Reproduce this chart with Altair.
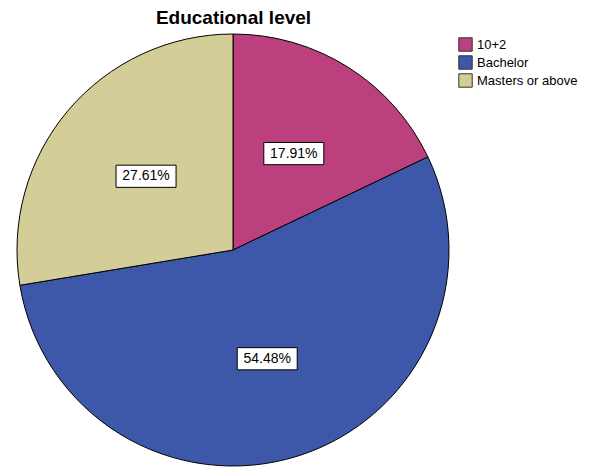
import altair as alt
import pandas as pd

categories = ["10+2", "Bachelor", "Masters or above"]
percents = [17.91, 54.48, 27.61]
labels = ["17.91%", "54.48%", "27.61%"]
colors = ["#BC3F7E", "#3D57A9", "#D3CE97"]

df = pd.DataFrame({
    "cat": categories,
    "pct": percents,
    "label": labels,
    "idx": list(range(len(categories))),
})

CX, CY, R, LR = 233, 250, 216, 114
FONT = "Liberation Sans"

base = alt.Chart(df)

pie = base.mark_arc(stroke="black", strokeWidth=1).encode(
    theta=alt.Theta("pct:Q", stack=True),
    color=alt.Color(
        "cat:N",
        scale=alt.Scale(domain=categories, range=colors),
        legend=alt.Legend(
            title=None,
            orient="none",
            legendX=458,
            legendY=37,
            symbolType="square",
            symbolSize=180,
            symbolStrokeColor="#333333",
            symbolStrokeWidth=1,
            symbolOpacity=1,
            labelFont=FONT,
            labelFontSize=13,
            labelColor="#000000",
            labelOffset=4,
            rowPadding=-1,
        ),
    ),
    order=alt.Order("idx:Q"),
    x=alt.value(CX),
    y=alt.value(CY),
    radius=alt.value(R),
)

lab_base = base.transform_window(
    cum="sum(pct)", sort=[alt.SortField("idx")], frame=[None, 0]
).transform_joinaggregate(
    total="sum(pct)"
).transform_calculate(
    ang="(datum.cum - datum.pct / 2) / datum.total * 2 * PI",
).transform_calculate(
    lx=f"{CX} + {LR} * sin(datum.ang)",
    ly=f"{CY} - {LR} * cos(datum.ang)",
)

boxes = lab_base.mark_point(
    shape="M-1,-0.37L1,-0.37L1,0.37L-1,0.37Z",
    size=3600,
    filled=True,
    fill="white",
    stroke="black",
    strokeWidth=1,
    opacity=1,
).encode(
    x=alt.X("lx:Q", scale=None),
    y=alt.Y("ly:Q", scale=None),
)

texts = lab_base.mark_text(font=FONT, fontSize=14, color="black").encode(
    x=alt.X("lx:Q", scale=None),
    y=alt.Y("ly:Q", scale=None),
    text="label:N",
)

chart = alt.layer(pie, boxes, texts).properties(
    width=603,
    height=468,
    padding=0,
    autosize="none",
    title=alt.TitleParams(
        "Educational level",
        font=FONT,
        fontSize=19,
        fontWeight="bold",
        color="black",
        anchor="middle",
        dx=-68,
        dy=51,
        baseline="bottom",
    ),
).configure_view(stroke=None)

chart.save("out.html", embed_options={"renderer": "svg", "actions": False})
